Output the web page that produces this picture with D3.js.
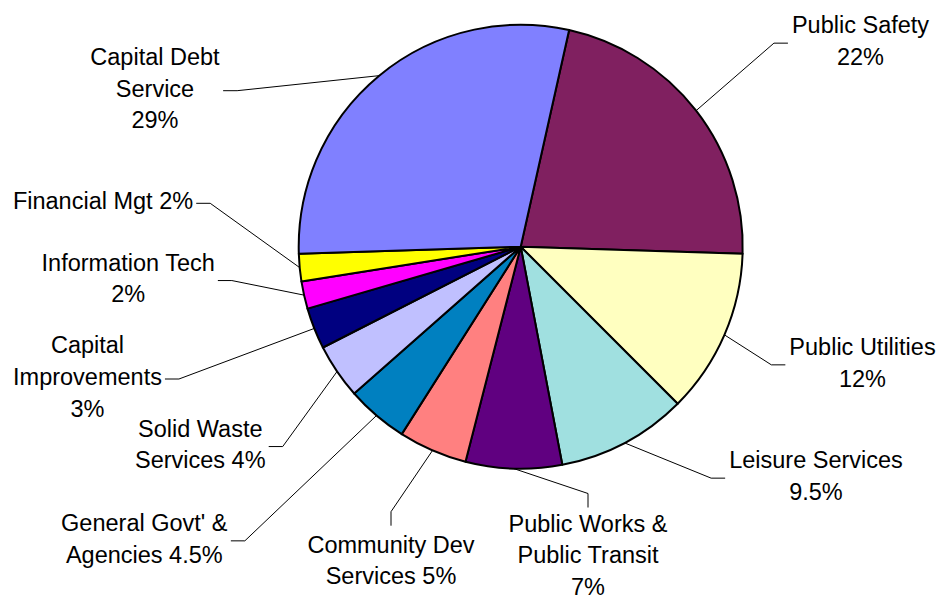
<!DOCTYPE html>
<html>
<head>
<meta charset="utf-8">
<script src="https://cdn.jsdelivr.net/npm/d3@7"></script>
<style>
  html, body { margin: 0; padding: 0; background: #ffffff; }
  svg { display: block; }
  .lbl { font-family: "Liberation Sans", Arial, sans-serif; font-size: 23.5px; fill: #000; }
</style>
</head>
<body>
<svg id="chart" width="939" height="600"></svg>
<script>
// Budget shares by department, in the order they run clockwise round the pie
const categories = [
  "Public Safety", "Public Utilities", "Leisure Services",
  "Public Works & Public Transit", "Community Dev Services",
  "General Govt' & Agencies", "Solid Waste Services",
  "Capital Improvements", "Information Tech", "Financial Mgt",
  "Capital Debt Service"
];
const shares = [22, 12, 9.5, 7, 5, 4.5, 4, 3, 2, 2, 29];

// How each label breaks into lines; {v} is replaced by the share
const labelLines = [
  ["Public Safety", "{v}%"],
  ["Public Utilities", "{v}%"],
  ["Leisure Services", "{v}%"],
  ["Public Works &", "Public Transit", "{v}%"],
  ["Community Dev", "Services {v}%"],
  ["General Govt' &", "Agencies {v}%"],
  ["Solid Waste", "Services {v}%"],
  ["Capital", "Improvements", "{v}%"],
  ["Information Tech", "{v}%"],
  ["Financial Mgt {v}%"],
  ["Capital Debt", "Service", "{v}%"]
];

const sliceColors = [
  "#802060", "#FFFFC0", "#A0E0E0", "#600080", "#FF8080", "#0080C0",
  "#C0C0FF", "#000080", "#FF00FF", "#FFFF00", "#8080FF"
];

// Label block placement: centre x, first baseline y, and the side the leader leaves from
const labelLayout = [
  { x: 860.5, y: 33.3,  side: "left"  },
  { x: 862.5, y: 355.0, side: "left"  },
  { x: 816.0, y: 468.3, side: "left"  },
  { x: 588.0, y: 531.5, side: "top", gap: 3 },
  { x: 391.0, y: 552.7, side: "top"   },
  { x: 144.3, y: 531.0, side: "right" },
  { x: 200.3, y: 436.7, side: "right" },
  { x: 87.5,  y: 353.3, side: "right" },
  { x: 128.2, y: 270.7, side: "right" },
  { x: 103.0, y: 209.3, side: "right" },
  { x: 155.0, y: 65.0,  side: "right" }
];

const cx = 520.7, cy = 246.7, radius = 222;
const lineGap = 31.7;
const startAngle = 12.6 * Math.PI / 180;

const svg = d3.select("#chart");

const data = categories.map((c, i) => ({
  name: c, value: shares[i], color: sliceColors[i],
  lines: labelLines[i], layout: labelLayout[i]
}));

const pie = d3.pie()
  .value(d => d.value)
  .sort(null)
  .startAngle(startAngle)
  .endAngle(startAngle + 2 * Math.PI);

const arcs = pie(data);

const arc = d3.arc().innerRadius(0).outerRadius(radius);
const rimArc = d3.arc().innerRadius(radius).outerRadius(radius);

const g = svg.append("g").attr("transform", `translate(${cx},${cy})`);

g.selectAll("path.slice")
  .data(arcs)
  .join("path")
  .attr("class", "slice")
  .attr("d", arc)
  .attr("fill", d => d.data.color)
  .attr("stroke", "#000")
  .attr("stroke-width", 2)
  .attr("stroke-linejoin", "round");

// Labels with elbowed leader lines running to the middle of each slice's rim
const labels = svg.append("g");
const leaders = svg.append("g");

arcs.forEach(d => {
  const L = d.data.layout;
  const t = labels.append("text")
    .attr("class", "lbl")
    .attr("text-anchor", "middle");
  d.data.lines.forEach((ln, k) => {
    t.append("tspan")
      .attr("x", L.x)
      .attr("y", L.y + k * lineGap)
      .text(ln.replace("{v}", d.data.value));
  });

  const bb = t.node().getBBox();
  const rim = rimArc.centroid(d);
  const end = [cx + rim[0], cy + rim[1]];
  const midY = bb.y + bb.height / 2 + 2;
  let p0, p1;
  if (L.side === "left") {
    p0 = [bb.x - 4, midY];
    p1 = [p0[0] - 14, midY];
  } else if (L.side === "right") {
    p0 = [bb.x + bb.width + 3, midY];
    p1 = [p0[0] + 14, midY];
  } else {
    p0 = [L.x, bb.y - (L.gap || 6)];
    p1 = [L.x, p0[1] - 14];
  }
  leaders.append("path")
    .attr("d", d3.line()([p0, p1, end]))
    .attr("fill", "none")
    .attr("stroke", "#000")
    .attr("stroke-width", 1);
});
</script>
</body>
</html>
